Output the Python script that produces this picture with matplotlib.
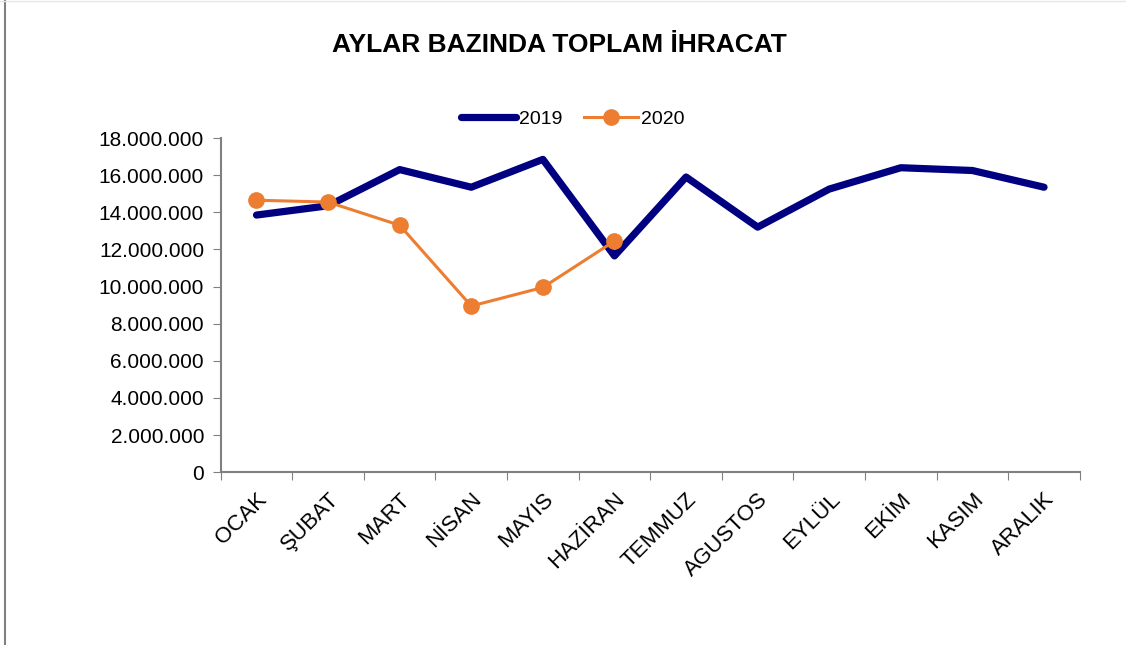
import numpy as np
import matplotlib.pyplot as plt
from matplotlib.lines import Line2D
from matplotlib.ticker import FuncFormatter

plt.rcParams['font.family'] = ['Liberation Sans', 'DejaVu Sans']

months = ['OCAK', 'ŞUBAT', 'MART', 'NİSAN', 'MAYIS', 'HAZİRAN',
          'TEMMUZ', 'AGUSTOS', 'EYLÜL', 'EKİM', 'KASIM', 'ARALIK']
exp_2019 = [13850000, 14350000, 16300000, 15350000, 16850000, 11650000,
            15900000, 13200000, 15250000, 16400000, 16250000, 15350000]
exp_2020 = [14650000, 14550000, 13300000, 8950000, 9950000, 12450000]

fig = plt.figure(figsize=(11.26, 6.45), dpi=100)
ax = fig.add_axes([0.196, 0.268, 0.763, 0.518])

x19 = np.arange(len(exp_2019)) + 0.5
x20 = np.arange(len(exp_2020)) + 0.5
ax.plot(x19, exp_2019, color='#000080', lw=5.2, solid_capstyle='round', label='2019')
ax.plot(x20, exp_2020, color='#ED7D31', lw=2.2, marker='o', ms=11, label='2020')

ax.set_xlim(0, 12)
ax.set_ylim(0, 18000000)
ax.set_yticks(np.arange(0, 18000001, 2000000))
ax.yaxis.set_major_formatter(FuncFormatter(lambda v, p: f'{int(v):,}'.replace(',', '.')))

ax.set_xticks(np.arange(0, 13))
ax.set_xticklabels([])
ax.set_xticks(x19, minor=True)
ax.set_xticklabels(months, minor=True, rotation=45, ha='right', va='top',
                   rotation_mode='anchor', fontsize=16)
ax.tick_params(axis='x', which='minor', length=0, pad=12)
ax.tick_params(axis='x', which='major', length=6, color='#808080', direction='out')
ax.tick_params(axis='y', length=6, color='#808080', labelsize=15, pad=6)

for s in ['top', 'right']:
    ax.spines[s].set_visible(False)
for s in ['left', 'bottom']:
    ax.spines[s].set_color('#808080')
    ax.spines[s].set_linewidth(1.5)

fig.text(0.497, 0.93, 'AYLAR BAZINDA TOPLAM İHRACAT', ha='center', va='center',
         fontsize=19, fontweight='bold')
ax.legend(loc='center', bbox_to_anchor=(0.41, 1.057), ncol=2, frameon=False,
          fontsize=14, handlelength=2.8, handletextpad=0.15, columnspacing=1.1)

fig.add_artist(Line2D([0.0045, 0.0045], [0, 1], color='#808080', lw=1.5))
fig.add_artist(Line2D([0, 1], [0.999, 0.999], color='#e6e6e6', lw=1))

fig.savefig('out.png', dpi=100)
